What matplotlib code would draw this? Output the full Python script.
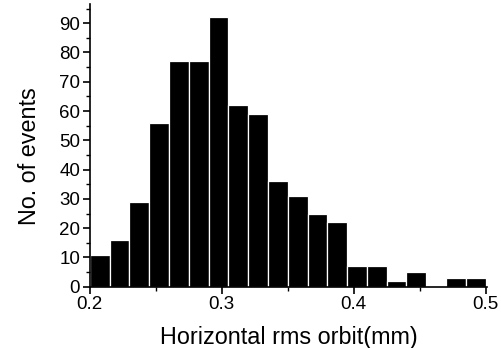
import numpy as np
import matplotlib.pyplot as plt

plt.rcParams['font.family'] = ['Liberation Sans', 'DejaVu Sans']

# histogram bins (left edges, mm) and counts
bin_left = [0.200, 0.215, 0.230, 0.245, 0.260, 0.275, 0.290, 0.305, 0.320, 0.335,
            0.350, 0.365, 0.380, 0.395, 0.410, 0.425, 0.440, 0.455, 0.470, 0.485]
counts = [11, 16, 29, 56, 77, 77, 92, 62, 59, 36,
          31, 25, 22, 7, 7, 2, 5, 0, 3, 3]
bin_width = 0.015

fig = plt.figure(figsize=(5.02, 3.48), dpi=100)
ax = fig.add_axes([0.179, 0.176, 0.791, 0.812])

ax.bar(bin_left, counts, width=bin_width, align='edge',
       color='black', edgecolor='white', linewidth=0.9)

ax.set_xlim(0.2, 0.501)
ax.set_ylim(0, 96.5)
ax.set_xticks([0.2, 0.3, 0.4, 0.5])
ax.set_xticklabels(['0.2', '0.3', '0.4', '0.5'])
ax.set_xticks([0.25, 0.35, 0.45], minor=True)
ax.set_yticks(np.arange(0, 91, 10))
ax.set_yticks(np.arange(5, 96, 10), minor=True)

for s in ['top', 'right']:
    ax.spines[s].set_visible(False)
ax.spines['left'].set_linewidth(1.2)
ax.spines['bottom'].set_linewidth(1.2)

ax.tick_params(which='major', direction='out', length=5, width=1.2, labelsize=13.5, pad=2)
ax.tick_params(which='minor', direction='out', length=3, width=1.0)

ax.set_xlabel('Horizontal rms orbit(mm)', fontsize=16.8, labelpad=9)
ax.set_ylabel('No. of events', fontsize=16.8)
ax.yaxis.set_label_coords(-0.123, 0.463)

fig.savefig('out.png', dpi=100)
